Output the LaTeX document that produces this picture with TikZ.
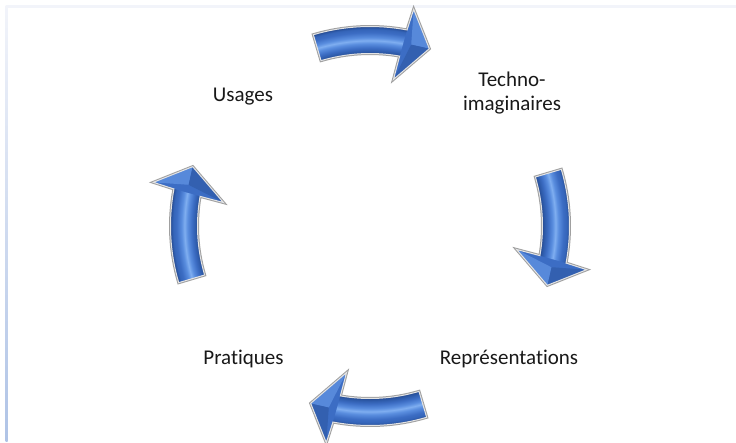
\documentclass[tikz,border=0pt]{standalone}
\usepackage{fontspec}
\setmainfont{Carlito}[Ligatures=NoCommon]
\definecolor{bdark}{HTML}{24498F}
\definecolor{bdarkb}{HTML}{2E5BAA}
\definecolor{bmid}{HTML}{3C6DC4}
\definecolor{bmidb}{HTML}{3464B8}
\definecolor{blight}{HTML}{5A8EDF}
\definecolor{bhigh}{HTML}{7FAEF0}
\definecolor{facetlight}{HTML}{5789DA}
\definecolor{facetdark}{HTML}{3360B0}
\definecolor{rimgray}{HTML}{A0A0A0}
\definecolor{rimlight}{HTML}{E4E4E4}
\definecolor{frametop}{HTML}{F2F4FA}
\definecolor{framebot}{HTML}{AFC3E6}
\pgfdeclareradialshading{bodybevel}{\pgfpointorigin}{%
 color(0bp)=(bmid); color(17.2bp)=(bdark); color(17.45bp)=(bdarkb);
 color(17.8bp)=(bmid); color(18.25bp)=(blight); color(18.55bp)=(bhigh);
 color(18.85bp)=(blight); color(19.35bp)=(bmid); color(19.7bp)=(bmidb);
 color(19.95bp)=(bdark); color(50bp)=(bdark)}
\tikzset{
 lbl/.style={font=\fontsize{21}{24}\selectfont, text=black!90, inner sep=0pt},
 rimouter/.style={draw=rimgray, line width=3pt, line join=miter},
 riminner/.style={draw=rimlight, line width=1pt, line join=miter}
}
\newcommand\arrowoutline{(\ta:199.5) arc[start angle=\ta,end angle=\tbo,radius=199.5pt] -- (\tho:221) -- (\tp:187) -- (\thi:148.5) -- (\tbi:172.5) arc[start angle=\tbi,end angle=\ta,radius=172.5pt] -- cycle}
\newcommand\cycarrow[3]{%
 \pgfmathsetmacro\ta{#1+16.5}%
 \pgfmathsetmacro\tbo{#1-10.7}%
 \pgfmathsetmacro\tbi{#1-9.9}%
 \pgfmathsetmacro\tho{#1-11.4}%
 \pgfmathsetmacro\thi{#1-9.1}%
 \pgfmathsetmacro\tp{#1-18.5}%
 \pgfmathsetmacro\tm{#1-12.8}%
 \path[rimouter] \arrowoutline;
 \fill[bmid] \arrowoutline;
 \begin{scope}
  \clip (\ta:199.5) arc[start angle=\ta,end angle=\tbo,radius=199.5pt] -- (\tbi:172.5) arc[start angle=\tbi,end angle=\ta,radius=172.5pt] -- cycle;
  \shade[shading=bodybevel] (0,0) circle (250pt);
 \end{scope}
 \fill[#2] (\tho:221) -- (\tp:187) -- (\tm:186) -- cycle;
 \fill[#3] (\thi:148.5) -- (\tp:187) -- (\tm:186) -- cycle;
 \path[riminner] \arrowoutline;
}
\begin{document}
\begin{tikzpicture}[x=1pt,y=1pt]
\useasboundingbox (0,0) rectangle (736,-442);
\fill[white] (0,0) rectangle (736,-442);
% frame
\fill[frametop] (5.5,-5) rectangle (736,-7.5);
\shade[top color=frametop, bottom color=framebot] (5.5,-5) rectangle (7.5,-441);
% arrows
\begin{scope}[shift={(370,-226)}]
 \cycarrow{90}{facetlight}{facetdark}
 \cycarrow{0}{facetdark}{facetlight}
 \cycarrow{-90}{facetdark}{facetlight}
 \cycarrow{180}{facetlight}{facetdark}
\end{scope}
% labels
\node[lbl, anchor=base] (usages) at (243,-101) {Usages};
\node[lbl, anchor=base, align=center] (techno) at (512,-110) {Techno-\\imaginaires};
\node[lbl, anchor=base] (repr) at (509,-364) {Représentations};
\node[lbl, anchor=base] (prat) at (243.5,-364) {Pratiques};
\end{tikzpicture}
\end{document}
